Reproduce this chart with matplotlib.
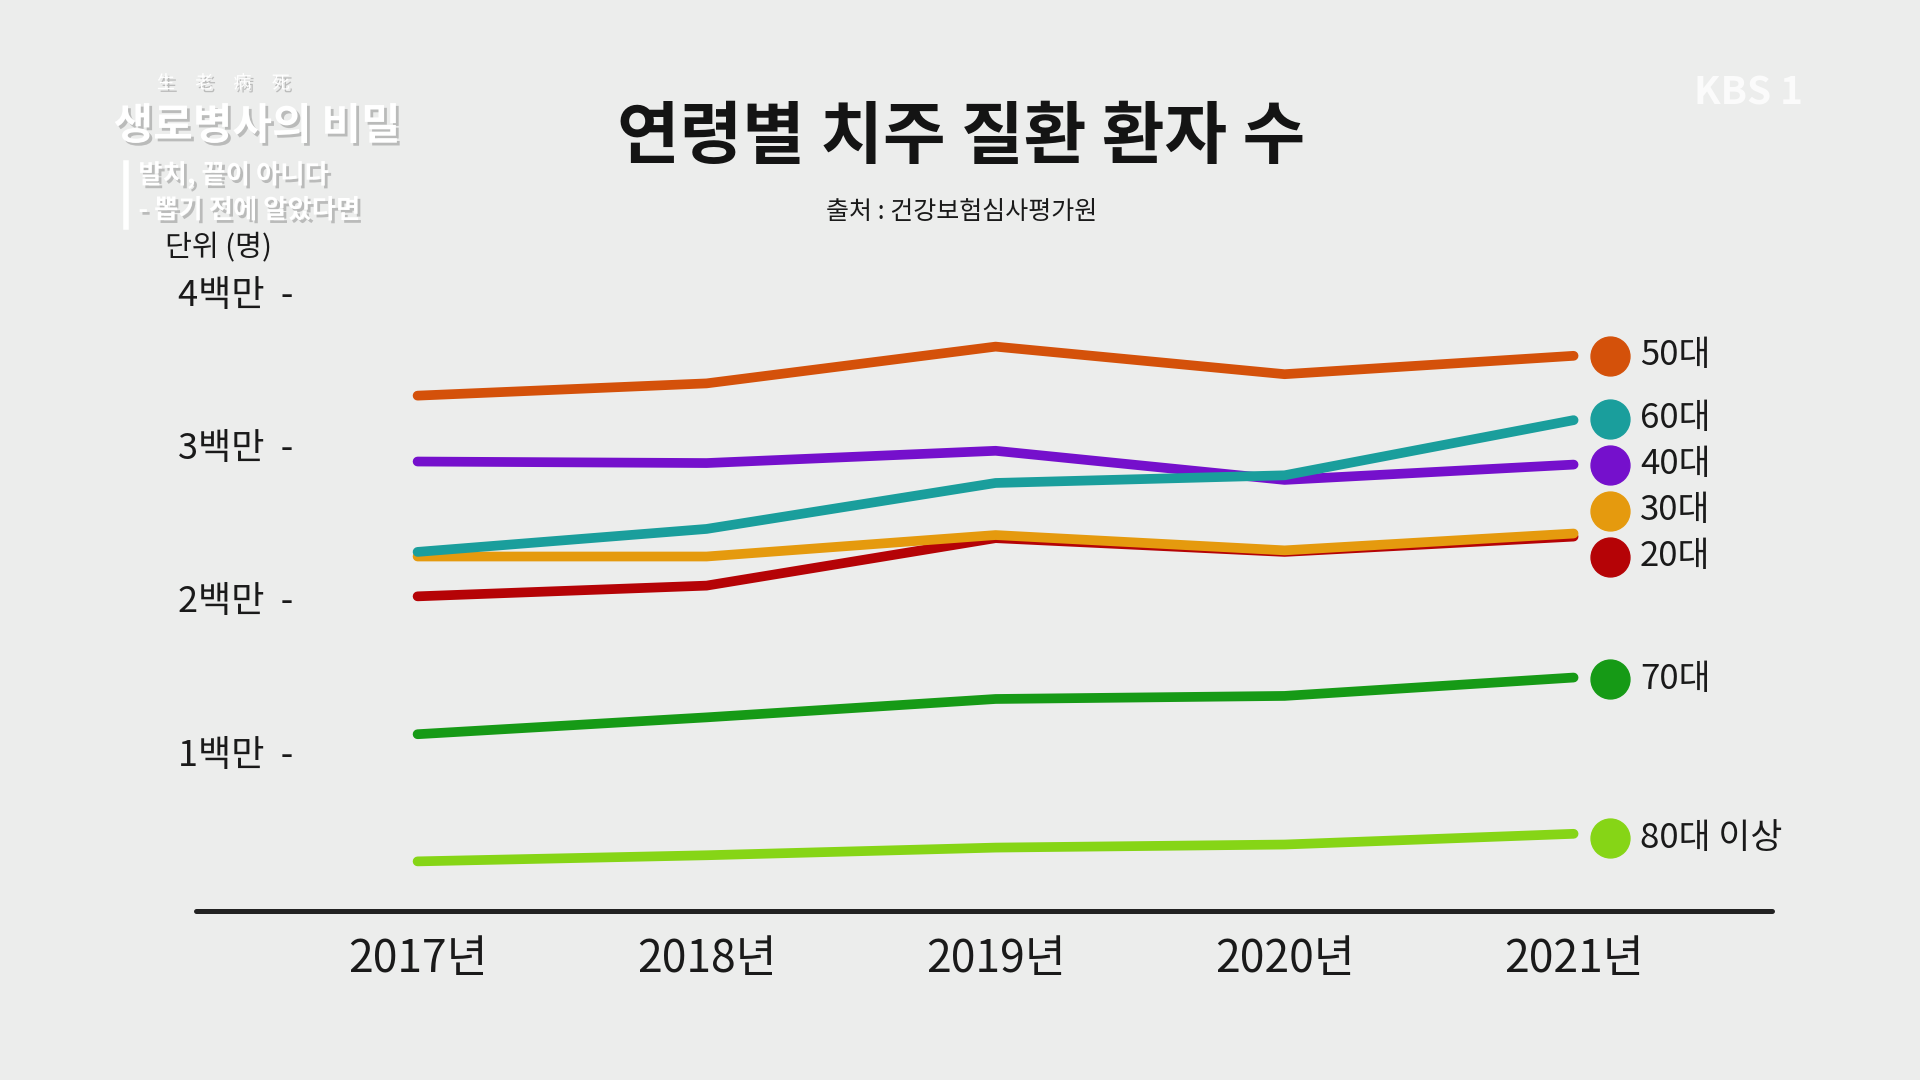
import matplotlib as mpl
mpl.use('Agg')
import matplotlib.pyplot as plt
import matplotlib.patheffects as pe

plt.rcParams['font.family'] = ['Noto Sans CJK KR', 'DejaVu Sans']

years = ['2017년', '2018년', '2019년', '2020년', '2021년']
groups = ['50대', '60대', '40대', '30대', '20대', '70대', '80대 이상']
# 환자 수 (백만 명)
v50 = [3.34, 3.42, 3.66, 3.48, 3.60]
v40 = [2.91, 2.90, 2.98, 2.79, 2.89]
v60 = [2.32, 2.47, 2.77, 2.82, 3.18]
v30 = [2.29, 2.29, 2.43, 2.33, 2.44]
v20 = [2.03, 2.10, 2.41, 2.32, 2.42]
v70 = [1.13, 1.24, 1.36, 1.38, 1.50]
v80 = [0.30, 0.34, 0.39, 0.41, 0.48]
yticks = [1, 2, 3, 4]
ylabels = ['1백만', '2백만', '3백만', '4백만']

colors = {'50대': '#d4510a', '60대': '#1a9e9c', '40대': '#7510cc',
          '30대': '#e59a0e', '20대': '#b50306', '70대': '#169a16',
          '80대 이상': '#86d516'}
series = {'50대': v50, '60대': v60, '40대': v40, '30대': v30,
          '20대': v20, '70대': v70, '80대 이상': v80}
draw_order = ['80대 이상', '70대', '20대', '30대', '40대', '60대', '50대']
# legend rows (value units), layout only
legend_y = [3.6, 3.19, 2.89, 2.59, 2.29, 1.49, 0.45]

bg = '#ecedec'
fig = plt.figure(figsize=(19.2, 10.8), dpi=100, facecolor=bg)
ax = fig.add_axes([160/1568, 1-744/882, (1447-160)/1568, (744-203)/882])
ax.set_facecolor('none')
ax.set_xlim(-0.767, 4.686)
ax.set_ylim(-0.024, 4.3)
for s in ['top', 'right', 'left']:
    ax.spines[s].set_visible(False)
ax.spines['bottom'].set_linewidth(3.6)
ax.spines['bottom'].set_color('#222222')
ax.spines['bottom'].set_capstyle('round')
ax.set_yticks([])

x = list(range(len(years)))
for g in draw_order:
    ax.plot(x, series[g], color=colors[g], lw=7, solid_capstyle='round',
            solid_joinstyle='round', zorder=3)

ax.set_xticks(x)
ax.set_xticklabels(years, fontsize=32, color='#1a1a1a')
ax.tick_params(axis='x', length=0, pad=18)

for v, lab in zip(yticks, ylabels):
    ax.text(-0.43, v - 0.01, lab + '  -', ha='right', va='center',
            fontsize=26, color='#1a1a1a')

for g, ly in zip(groups, legend_y):
    ax.plot([4.127], [ly], 'o', ms=28, color=colors[g], clip_on=False, zorder=4)
    ax.text(4.23, ly, g, ha='left', va='center', fontsize=25,
            color='#1a1a1a', clip_on=False)

fig.text(135/1568, 1-203/882, '단위 (명)', ha='left', va='center',
         fontsize=21, color='#1a1a1a')
fig.text(785/1568, 1-113/882, '연령별 치주 질환 환자 수', ha='center',
         va='center', fontsize=49, fontweight='bold', color='#141414')
fig.text(785/1568, 1-173/882, '출처 : 건강보험심사평가원', ha='center',
         va='center', fontsize=18, color='#1a1a1a')

# program logo (top left) and broadcaster watermark
shadow = [pe.withSimplePatchShadow(offset=(2, -2), shadow_rgbFace='#9a9a9a',
                                   alpha=0.6)]
fig.text(182/1568, 1-68/882, '生     老     病     死', ha='center',
         va='center', fontsize=13, color='white', path_effects=shadow)
fig.text(210/1568, 1-103/882, '생로병사의 비밀', ha='center', va='center',
         fontsize=31, fontweight='bold', color='white', path_effects=shadow)
fig.text(113/1568, 1-143/882, '발치, 끝이 아니다', ha='left', va='center',
         fontsize=19, fontweight='bold', color='white', path_effects=shadow)
fig.text(113/1568, 1-172/882, '- 뽑기 전에 알았다면', ha='left', va='center',
         fontsize=19, fontweight='bold', color='white', path_effects=shadow)
fig.add_artist(plt.Line2D([103/1568, 103/1568], [1-133/882, 1-185/882],
                          lw=4, color='white', transform=fig.transFigure))
fig.text(1428/1568, 1-76/882, 'KBS 1', ha='center', va='center',
         fontsize=28, fontweight='bold', color='white', alpha=0.8)

fig.savefig('out.png', facecolor=bg)
